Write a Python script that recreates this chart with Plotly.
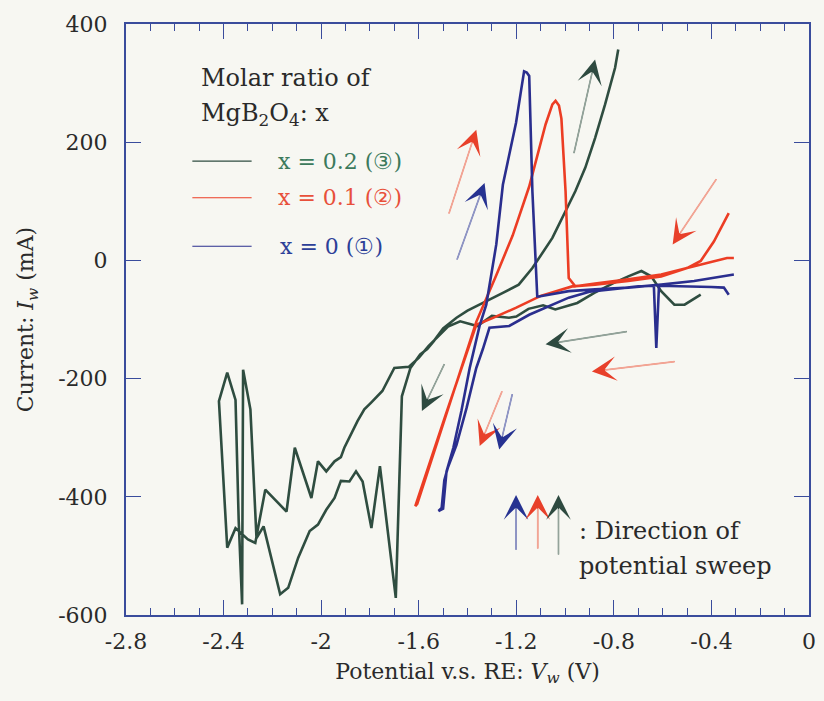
import plotly.graph_objects as go

# ---- Cyclic voltammograms: potential (V) vs current (mA) ----
# x = 0.2 (3): MgB2O4 molar ratio 0.2
v_x02 = [-0.444, -0.51, -0.552, -0.606, -0.647, -0.687, -0.741, -0.80, -0.88, -0.95,
         -1.04, -1.09, -1.15, -1.20, -1.23, -1.30, -1.36, -1.43, -1.48, -1.52,
         -1.56, -1.60, -1.64, -1.70, -1.749, -1.796, -1.823, -1.851, -1.878, -1.905,
         -1.919, -1.945, -1.979, -2.013, -2.040, -2.108, -2.142, -2.229, -2.27, -2.30,
         -2.351, -2.385, -2.419, -2.385, -2.351, -2.338, -2.324, -2.320, -2.29, -2.265,
         -2.236, -2.168, -2.135, -2.094, -2.047, -2.013, -1.979, -1.945, -1.919, -1.884,
         -1.857, -1.83, -1.794, -1.759, -1.694, -1.669, -1.634, -1.594, -1.565, -1.539,
         -1.50, -1.445, -1.40, -1.35, -1.30, -1.255, -1.19, -1.134, -1.052, -1.012,
         -0.958, -0.917, -0.877, -0.836, -0.795, -0.782]
i_x02 = [-58, -75, -75, -52, -27, -18, -27, -38, -55, -72,
         -83, -76, -82, -95, -97, -94, -111, -103, -112, -128,
         -145, -165, -180, -182, -221, -241, -252, -272, -295, -317,
         -333, -340, -357, -340, -402, -317, -425, -388, -478, -472,
         -453, -486, -238, -190, -236, -440, -582, -185, -252, -470,
         -450, -565, -554, -503, -458, -447, -422, -402, -373, -374,
         -357, -374, -453, -348, -571, -230, -182, -159, -150, -137,
         -115, -97, -85, -75, -65, -55, -41, -13, 38, 72,
         117, 157, 207, 264, 326, 357]

# x = 0.1 (2)
v_x01 = [-0.329, -0.39, -0.444, -0.50, -0.606, -0.741, -0.877, -0.971, -1.10, -1.20,
         -1.30, -1.364, -1.49, -1.614, -1.606, -1.48, -1.364, -1.282, -1.215, -1.147,
         -1.08, -1.052, -1.039, -1.025, -1.015, -0.998, -0.985, -0.958, -0.877, -0.741,
         -0.606, -0.471, -0.336, -0.308]
i_x01 = [80, 32, -1, -13, -27, -35, -41, -44, -60, -80,
         -98, -109, -262, -416, -412, -252, -104, -25, 42, 125,
         230, 264, 270, 262, 240, 117, -30, -44, -39, -32,
         -24, -10, 4, 4]

# x = 0 (1)
v_x00 = [-0.329, -0.349, -0.40, -0.471, -0.55, -0.615, -0.626, -0.636, -0.70, -0.80,
         -0.90, -0.985, -1.066, -1.147, -1.229, -1.31, -1.337, -1.364, -1.404, -1.445,
         -1.48, -1.495, -1.506, -1.519, -1.50, -1.486, -1.458, -1.425, -1.391, -1.35,
         -1.323, -1.282, -1.255, -1.222, -1.201, -1.181, -1.168, -1.157, -1.147, -1.134,
         -1.114, -1.107, -0.985, -0.877, -0.741, -0.606, -0.471, -0.308]
i_x00 = [-58, -46, -45, -44, -43, -43, -148, -43, -44, -48,
         -53, -63, -77, -92, -111, -114, -150, -182, -250, -312,
         -350, -372, -419, -424, -420, -357, -317, -255, -182, -110,
         -75, 27, 128, 196, 233, 286, 320, 318, 312, 117,
         -61, -61, -52, -49, -46, -41, -35, -24]

# Sweep-direction arrows: (tail V, tail mA, tip V, tip mA)
arrows_x02 = [(-0.965, 179, -0.877, 340), (-0.741, -120, -1.08, -142), (-1.492, -173, -1.587, -255)]
arrows_x01 = [(-1.478, 77, -1.364, 221), (-0.376, 140, -0.559, 27), (-0.545, -171, -0.89, -188),
              (-1.256, -219, -1.35, -314)]
arrows_x00 = [(-1.445, -1, -1.330, 131), (-1.215, -224, -1.27, -320)]
# Key arrows next to the "Direction of potential sweep" note
key_arrow_v = [-1.201, -1.112, -1.027]
key_arrow_tail = [-492, -490, -500]
key_arrow_tip = -397

x_ticks = [-2.8, -2.4, -2.0, -1.6, -1.2, -0.8, -0.4, 0.0]
x_ticktext = ["-2.8", "-2.4", "-2", "-1.6", "-1.2", "-0.8", "-0.4", "0"]
y_ticks = [-600, -400, -200, 0, 200, 400]
y_ticktext = ["-600", "-400", "-200", "0", "200", "400"]

# ---- styling ----
FONT = "DejaVu Serif"
BG = "#f7f7f2"
AXIS = "#3a4c9c"
C_G, C_R, C_B = "#2f4d40", "#ec3d24", "#2a2e8e"
HEAD = {"g": "#2e4a40", "r": "#e8402a", "b": "#263291"}
SHAFT = {"g": "#93a39a", "r": "#f2a595", "b": "#8f95c4"}
TXT = {"g": "#3c7a5c", "r": "#e8503a", "b": "#2c3f98"}

W, H = 824, 701
ML, MR, MT, MB = 126, 8, 24, 86
XR, YR = (-2.8, 0.0), (-600, 400)
px_x = (W - ML - MR) / (XR[1] - XR[0])
px_y = (H - MT - MB) / (YR[1] - YR[0])

fig = go.Figure()
for v, i, c, nm in [(v_x02, i_x02, C_G, "x = 0.2"), (v_x01, i_x01, C_R, "x = 0.1"),
                    (v_x00, i_x00, C_B, "x = 0")]:
    fig.add_trace(go.Scatter(x=v, y=i, mode="lines", name=nm,
                             line=dict(color=c, width=2.6), showlegend=False))

annotations = []
HEAD_SIZE = 4.1          # barbed arrowhead scale (arrowwidth = 1)
SHAFT_CUT = 14           # px of shaft hidden under the head


def add_arrow(x0, y0, x1, y1, key):
    # full arrow in the dark colour (barbed head + thin shaft)
    annotations.append(dict(x=x1, y=y1, ax=x0, ay=y0, xref="x", yref="y", axref="x", ayref="y",
                            text="", showarrow=True, arrowhead=3, arrowwidth=1,
                            arrowsize=HEAD_SIZE, arrowcolor=HEAD[key]))
    # pale shaft laid over the dark one, stopping inside the head
    dxp = (x1 - x0) * px_x
    dyp = (y1 - y0) * px_y
    n = (dxp * dxp + dyp * dyp) ** 0.5
    f = (n - SHAFT_CUT) / n
    annotations.append(dict(x=x0 + (x1 - x0) * f, y=y0 + (y1 - y0) * f, ax=x0, ay=y0,
                            xref="x", yref="y", axref="x", ayref="y",
                            text="", showarrow=True, arrowhead=0, arrowwidth=1.7,
                            arrowcolor=SHAFT[key]))


for a in arrows_x02:
    add_arrow(*a, "g")
for a in arrows_x01:
    add_arrow(*a, "r")
for a in arrows_x00:
    add_arrow(*a, "b")
for v, t, k in zip(key_arrow_v, key_arrow_tail, ["b", "r", "g"]):
    add_arrow(v, t, v, key_arrow_tip, k)

TXTC = "#2a2a2a"
# note beside the key arrows
annotations.append(dict(x=-0.95, y=-458, xref="x", yref="y", xanchor="left", yanchor="middle",
                        text=": Direction of", showarrow=False,
                        font=dict(family=FONT, size=24, color=TXTC)))
annotations.append(dict(x=-0.95, y=-517, xref="x", yref="y", xanchor="left", yanchor="middle",
                        text="potential sweep", showarrow=False,
                        font=dict(family=FONT, size=24, color=TXTC)))

# legend block
annotations.append(dict(x=-2.5, y=309, xref="x", yref="y", xanchor="left", yanchor="middle",
                        text="Molar ratio of", showarrow=False,
                        font=dict(family=FONT, size=24, color=TXTC)))
annotations.append(dict(x=-2.5, y=247, xref="x", yref="y", xanchor="left", yanchor="middle",
                        text="MgB<sub>2</sub>O<sub>4</sub>: x", showarrow=False,
                        font=dict(family=FONT, size=24, color=TXTC)))
legend_rows = [("x = 0.2 (③)", 168, C_G, TXT["g"], -2.187),
               ("x = 0.1 (②)", 106, C_R, TXT["r"], -2.187),
               ("x = 0 (①)", 24, C_B, TXT["b"], -2.175)]
shapes = []
for label, yv, lc, tc, xl in legend_rows:
    shapes.append(dict(type="line", xref="x", yref="y", x0=-2.528, x1=-2.285, y0=yv, y1=yv,
                       line=dict(color=lc, width=1.1)))
    annotations.append(dict(x=xl, y=yv, xref="x", yref="y", xanchor="left", yanchor="middle",
                            text=label, showarrow=False,
                            font=dict(family=FONT, size=22, color=tc)))

fig.update_layout(
    width=W, height=H,
    margin=dict(l=ML, r=MR, t=MT, b=MB, pad=0),
    paper_bgcolor=BG, plot_bgcolor=BG,
    font=dict(family=FONT, size=22, color=TXTC),
    annotations=annotations, shapes=shapes,
    xaxis=dict(range=list(XR), tickvals=x_ticks, ticktext=x_ticktext,
               ticks="inside", ticklen=15, tickwidth=1, tickcolor=AXIS,
               minor=dict(dtick=0.1, ticks="inside", ticklen=7, tickwidth=1, tickcolor=AXIS),
               showline=True, linecolor=AXIS, linewidth=2, mirror="ticks",
               showgrid=False, zeroline=False, ticklabelstandoff=6,
               tickfont=dict(family=FONT, size=22, color=TXTC),
               title=dict(text="Potential v.s. RE: <i>V</i><sub><i>w</i></sub> (V)",
                          font=dict(family=FONT, size=22), standoff=10)),
    yaxis=dict(range=list(YR), tickvals=y_ticks, ticktext=y_ticktext,
               ticks="inside", ticklen=15, tickwidth=1, tickcolor=AXIS,
               showline=True, linecolor=AXIS, linewidth=2, mirror="ticks",
               showgrid=False, zeroline=False, ticklabelstandoff=12,
               tickfont=dict(family=FONT, size=22, color=TXTC),
               title=dict(text="Current: <i>I</i><sub><i>w</i></sub> (mA)",
                          font=dict(family=FONT, size=22), standoff=18)),
)

fig.write_html("out.html")
